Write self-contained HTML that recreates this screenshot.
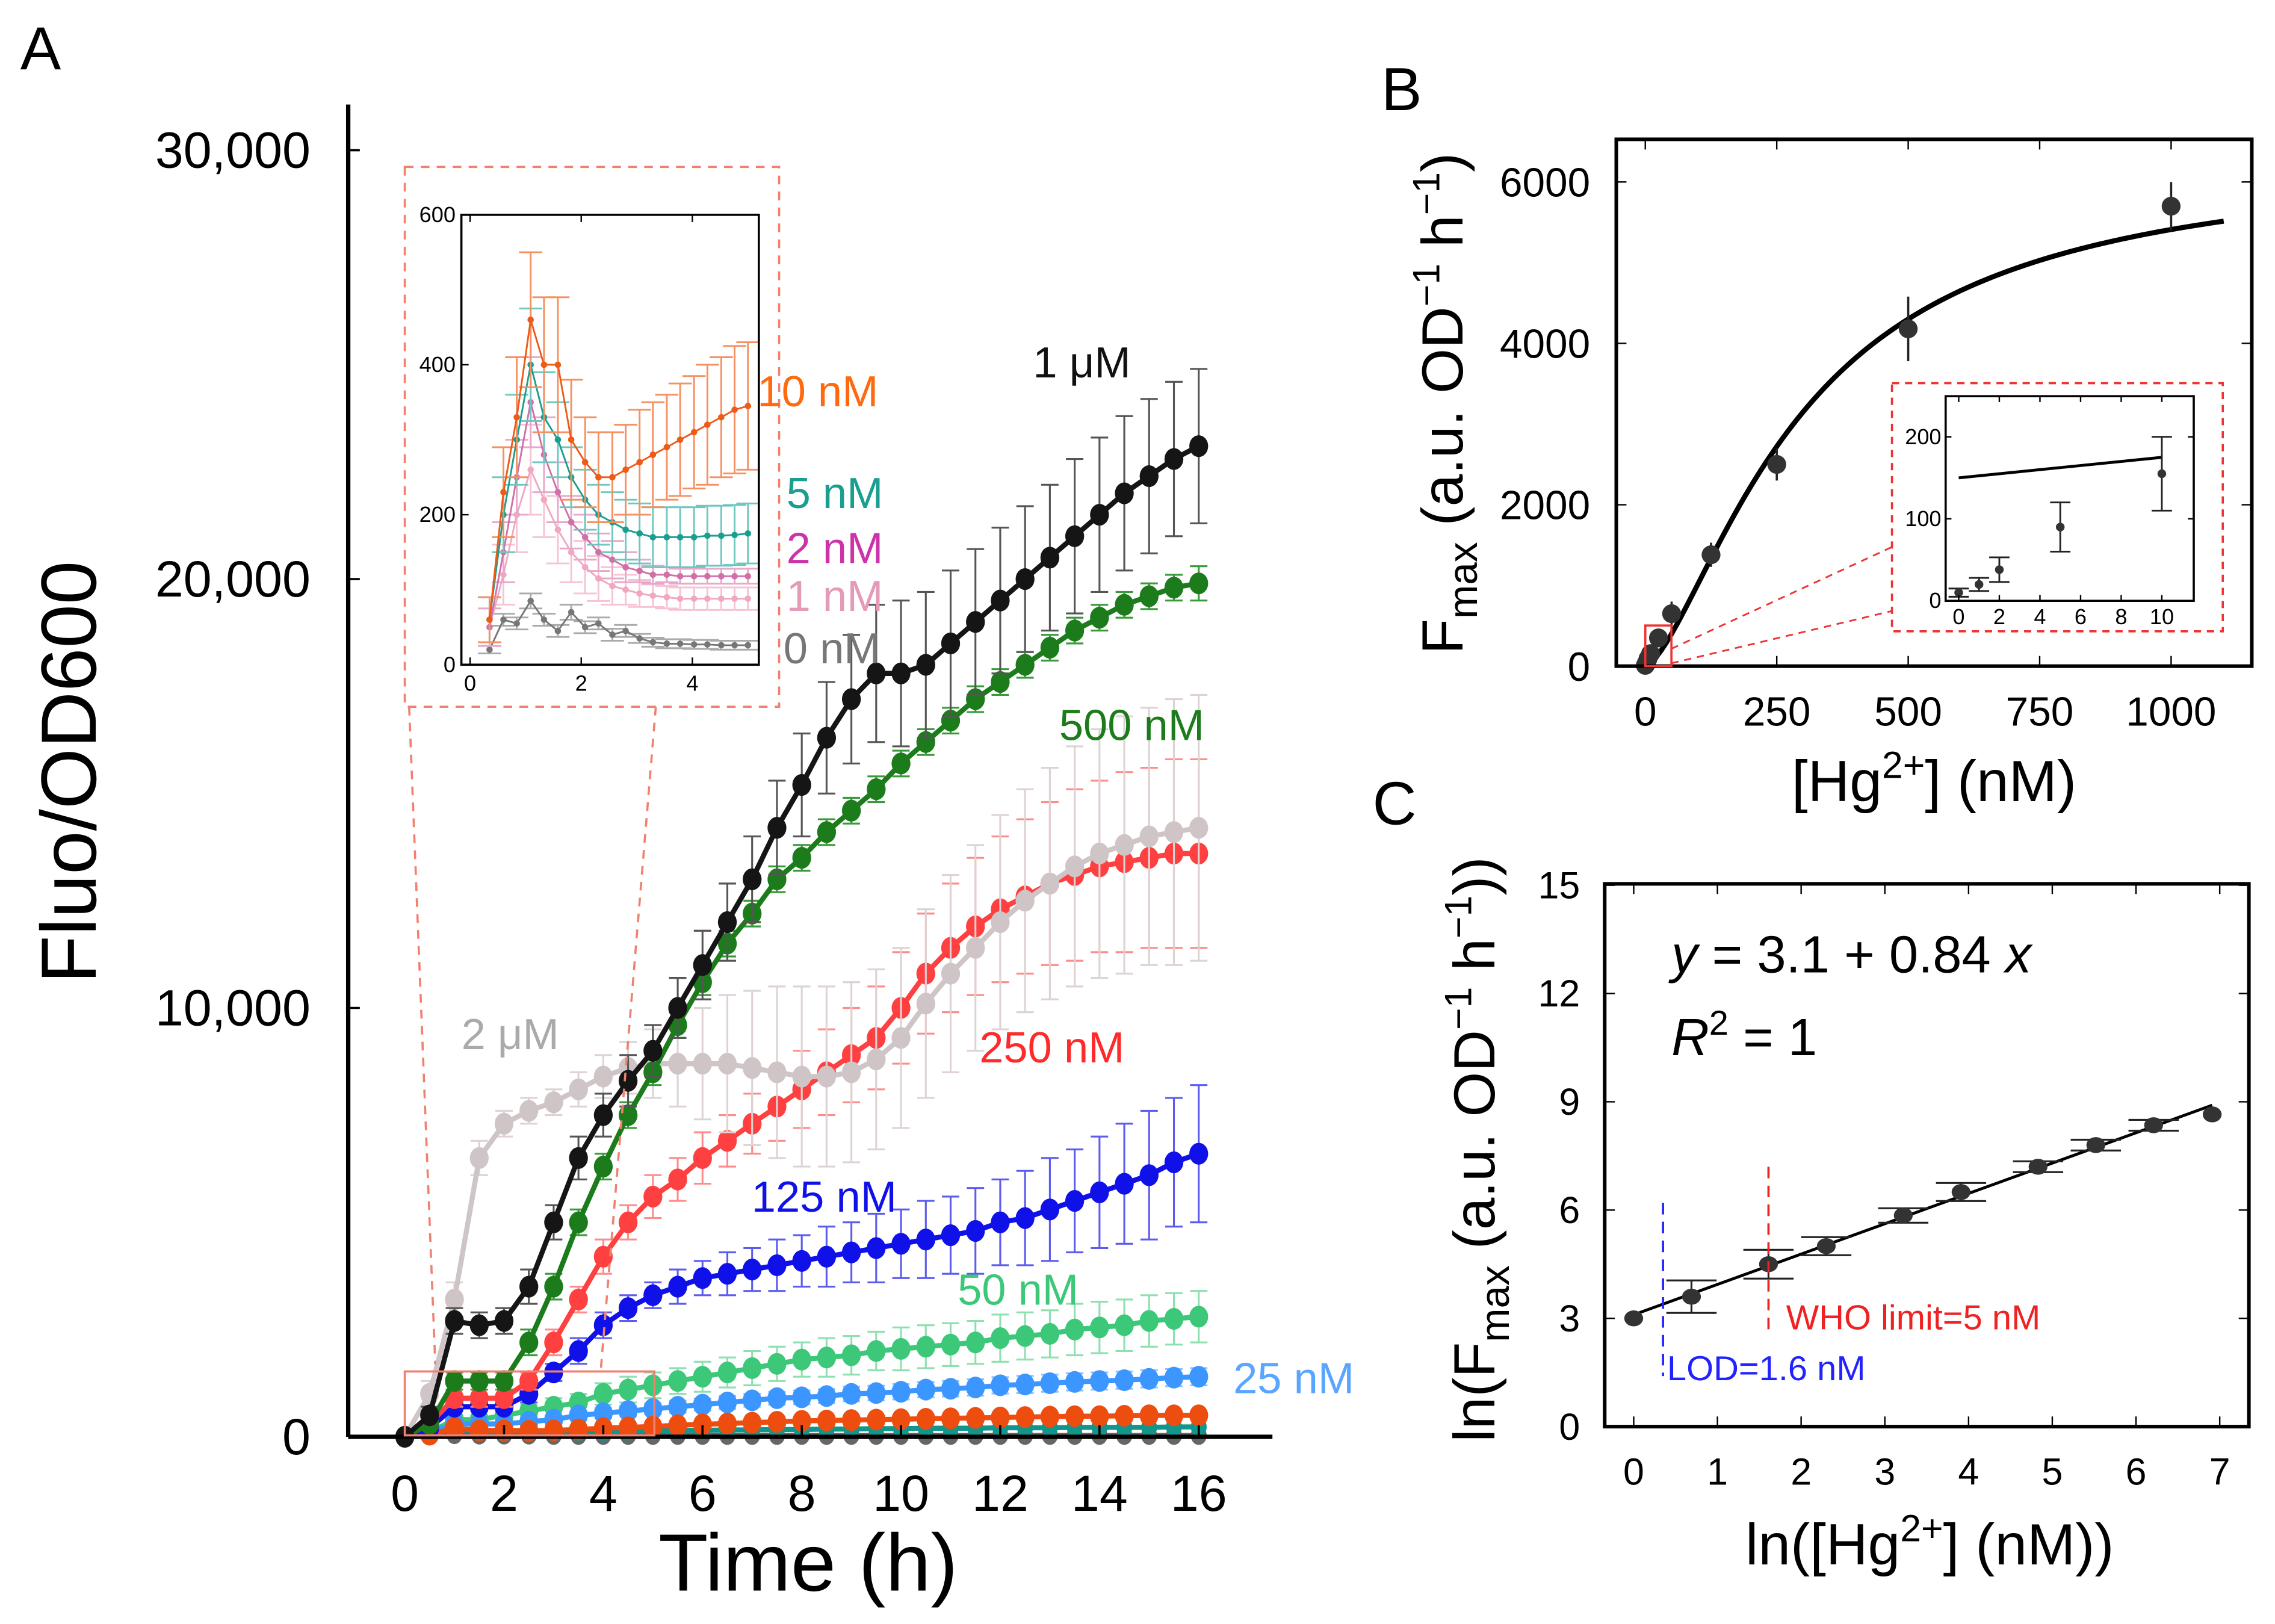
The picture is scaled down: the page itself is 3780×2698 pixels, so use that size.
<!DOCTYPE html>
<html><head><meta charset="utf-8">
<style>
html,body{margin:0;padding:0;background:#fff;}
svg{display:block;}
text{font-family:"Liberation Sans","DejaVu Sans",sans-serif;}
</style></head>
<body>
<svg id="fig" xmlns="http://www.w3.org/2000/svg" width="3780" height="2698" viewBox="0 0 1568 1119" preserveAspectRatio="none"></svg>
<script>
// ---------- Panel A data (thousands, t = 0..16 step 0.5 h) ----------
const aTimes = [0,0.5,1,1.5,2,2.5,3,3.5,4,4.5,5,5.5,6,6.5,7,7.5,8,8.5,9,9.5,10,10.5,11,11.5,12,12.5,13,13.5,14,14.5,15,15.5,16];
const a1uM   = [0,0.5,2.7,2.6,2.7,3.5,5.0,6.5,7.5,8.3,9.0,10.0,11.0,12.0,13.0,14.2,15.2,16.3,17.2,17.8,17.8,18.0,18.5,19.0,19.5,20.0,20.5,21.0,21.5,22.0,22.4,22.8,23.1];
const a1uMErr= [0,0.2,0.3,0.3,0.3,0.4,0.4,0.5,0.5,0.6,0.6,0.7,0.8,0.9,1.0,1.1,1.2,1.3,1.5,1.6,1.7,1.7,1.7,1.7,1.7,1.7,1.7,1.8,1.8,1.8,1.8,1.8,1.8];
const a500   = [0,0.3,1.3,1.3,1.3,2.2,3.5,5.0,6.3,7.5,8.5,9.6,10.6,11.5,12.2,13.0,13.5,14.1,14.6,15.1,15.7,16.2,16.7,17.2,17.6,18.0,18.4,18.8,19.1,19.4,19.6,19.8,19.9];
const a500Err= [0,0.1,0.2,0.2,0.2,0.3,0.3,0.3,0.3,0.3,0.3,0.3,0.3,0.3,0.3,0.3,0.3,0.3,0.3,0.3,0.3,0.3,0.3,0.3,0.3,0.3,0.3,0.3,0.3,0.3,0.3,0.3,0.4];
const a2uM   = [0,1.0,3.2,6.5,7.3,7.6,7.8,8.1,8.4,8.6,8.7,8.7,8.7,8.7,8.6,8.5,8.4,8.4,8.5,8.8,9.3,10.1,10.8,11.4,12.0,12.5,12.9,13.3,13.6,13.8,14.0,14.1,14.2];
const a2uMErr= [0,0.3,0.4,0.4,0.3,0.3,0.3,0.4,0.5,0.6,0.8,1.0,1.3,1.6,1.8,2.0,2.1,2.1,2.1,2.1,2.1,2.2,2.3,2.4,2.5,2.6,2.7,2.8,2.9,3.0,3.0,3.1,3.1];
const a250   = [0,0.3,0.9,0.9,0.9,1.3,2.2,3.2,4.2,5.0,5.6,6.0,6.5,6.9,7.3,7.7,8.1,8.5,8.9,9.3,10.0,10.8,11.4,11.9,12.3,12.6,12.9,13.1,13.3,13.4,13.5,13.6,13.6];
const a250Err= [0,0.1,0.2,0.2,0.2,0.2,0.3,0.3,0.4,0.4,0.5,0.5,0.6,0.6,0.7,0.8,0.9,1.0,1.1,1.2,1.3,1.4,1.5,1.6,1.7,1.8,1.9,2.0,2.0,2.1,2.1,2.2,2.2];
const a125   = [0,0.2,0.7,0.7,0.7,1.0,1.5,2.0,2.6,3.0,3.3,3.5,3.7,3.8,3.9,4.0,4.1,4.2,4.3,4.4,4.5,4.6,4.7,4.8,5.0,5.1,5.3,5.5,5.7,5.9,6.1,6.4,6.6];
const a125Err= [0,0.1,0.1,0.1,0.1,0.2,0.2,0.3,0.3,0.3,0.3,0.4,0.4,0.5,0.5,0.6,0.6,0.7,0.7,0.8,0.8,0.9,0.9,1.0,1.0,1.1,1.2,1.2,1.3,1.4,1.5,1.5,1.6];
const a50    = [0,0.1,0.4,0.4,0.5,0.6,0.7,0.8,1.0,1.1,1.2,1.3,1.4,1.5,1.6,1.7,1.8,1.85,1.9,2.0,2.05,2.1,2.15,2.2,2.3,2.35,2.4,2.5,2.55,2.6,2.7,2.75,2.8];
const a50Err = [0,0.05,0.1,0.1,0.1,0.15,0.2,0.2,0.25,0.3,0.3,0.3,0.35,0.35,0.4,0.4,0.4,0.45,0.45,0.45,0.5,0.5,0.5,0.5,0.55,0.55,0.55,0.6,0.6,0.6,0.6,0.6,0.6];
const a25    = [0,0.1,0.3,0.3,0.3,0.35,0.4,0.5,0.55,0.6,0.65,0.7,0.75,0.8,0.85,0.9,0.92,0.95,1.0,1.02,1.05,1.1,1.12,1.15,1.2,1.22,1.25,1.28,1.3,1.32,1.35,1.38,1.4];
const a25Err = [0,0.05,0.1,0.1,0.1,0.1,0.1,0.1,0.12,0.12,0.12,0.14,0.14,0.15,0.15,0.15,0.16,0.16,0.17,0.17,0.18,0.18,0.18,0.19,0.19,0.2,0.2,0.2,0.2,0.2,0.2,0.2,0.2];
const a10    = [0,0.05,0.2,0.15,0.15,0.14,0.15,0.17,0.2,0.22,0.24,0.27,0.29,0.31,0.33,0.35,0.37,0.38,0.39,0.4,0.41,0.42,0.43,0.44,0.45,0.46,0.47,0.48,0.48,0.49,0.5,0.5,0.5];
const a5     = [0,0.05,0.2,0.12,0.1,0.1,0.1,0.11,0.12,0.13,0.14,0.15,0.15,0.16,0.16,0.17,0.17,0.18,0.18,0.19,0.19,0.2,0.2,0.2,0.21,0.21,0.21,0.22,0.22,0.22,0.22,0.23,0.23];
const a0     = [0,0.02,0.05,0.04,0.04,0.04,0.03,0.03,0.03,0.03,0.03,0.03,0.03,0.03,0.03,0.03,0.03,0.03,0.03,0.03,0.03,0.03,0.03,0.03,0.03,0.03,0.03,0.03,0.03,0.03,0.03,0.03,0.03];
const aYTicks = [0,10,20,30];
const aYTickLabels = ["0","10,000","20,000","30,000"];
const aXTicks = [0,2,4,6,8,10,12,14,16];

// ---------- Panel A inset data ----------
const iTimes = [0.35,0.6,0.84,1.09,1.33,1.58,1.82,2.07,2.31,2.56,2.8,3.05,3.29,3.54,3.78,4.03,4.27,4.52,4.76,5.0];
const i10  = [60,230,330,460,400,400,300,270,250,250,260,270,280,290,300,310,320,330,340,345];
const i10E = [30,60,80,90,90,90,80,60,60,60,60,70,70,70,75,75,80,80,85,85];
const i5   = [60,200,300,400,330,300,250,220,200,190,180,175,170,170,170,170,172,172,173,175];
const i5E  = [30,50,60,75,60,50,40,40,40,40,40,40,40,40,40,40,40,40,40,40];
const i2   = [50,150,250,350,280,230,190,170,150,140,130,125,120,120,118,118,118,118,118,118];
const i2E  = [25,40,50,60,50,40,35,30,25,25,20,15,12,10,10,10,10,10,10,10];
const i1   = [50,120,200,260,220,180,150,130,115,105,100,95,92,90,88,88,88,88,88,88];
const i1E  = [25,40,50,60,50,45,40,35,30,25,20,18,15,15,15,15,15,15,15,15];
const i0   = [20,60,55,85,60,45,70,50,55,40,45,35,30,28,28,27,27,26,26,26];
const i0E  = [5,8,8,10,8,8,10,8,8,8,8,6,6,6,6,6,6,6,6,6];
const iYTicks = [0,200,400,600];
const iXTicks = [0,2,4];

// ---------- Panel B data ----------
const bConc = [0,1,2,5,10,25,50,125,250,500,1000];
const bFmax = [10,20,38,90,155,350,650,1380,2500,4180,5700];
const bErr  = [5,8,15,30,45,60,150,150,200,400,300];
const bFitVmax = 6300, bFitK = 300, bFitN = 1.5;
const bYTicks = [0,2000,4000,6000];
const bXTicks = [0,250,500,750,1000];
const bInsetYTicks = [0,100,200];
const bInsetXTicks = [0,2,4,6,8,10];
const bInsetFit = [[0,150],[10,175]];

// ---------- Panel C data ----------
const cX = [0,0.69,1.61,2.3,3.22,3.91,4.83,5.52,6.21,6.91];
const cY = [3.0,3.6,4.5,5.0,5.85,6.5,7.2,7.8,8.35,8.65];
const cYErr = [0.1,0.45,0.4,0.25,0.2,0.25,0.15,0.15,0.15,0.1];
const cXErr = [0.05,0.3,0.3,0.3,0.3,0.3,0.3,0.3,0.3,0.05];
const cIntercept = 3.1, cSlope = 0.84;
const cYTicks = [0,3,6,9,12,15];
const cXTicks = [0,1,2,3,4,5,6,7];
const cLOD = 0.35, cWHO = 1.61;

const NS = "http://www.w3.org/2000/svg";
const svg = document.getElementById('fig');
function mk(tag, attrs, parent) {
  const el = document.createElementNS(NS, tag);
  for (const k in attrs) el.setAttribute(k, attrs[k]);
  (parent || svg).appendChild(el);
  return el;
}
function grp(parent) { return mk('g', {}, parent); }

// ===== Panel A axes =====
const AX0 = 279, AXS = 34.2, AY0 = 990, AYS = 29.55;
const ax = t => AX0 + t * AXS;
const ay = v => AY0 - v * AYS;

let el;
el = mk('text', {x: 14, y: 48, 'font-size': 42}); el.textContent = 'A';



const gA = grp();



const aSeries = [
  {name:'series-50nM', v:a50, e:a50Err, c:'#3cc878', ec:'#8fe0b0', r:6},
  {name:'series-25nM', v:a25, e:a25Err, c:'#3b96ff', ec:'#8cc0ff', r:6},
  {name:'series-0nM', v:a0, e:null, c:'#666', ec:'#999', r:5},
  {name:'series-5nM', v:a5, e:null, c:'#12958a', ec:'#5cc', r:5},
  {name:'series-10nM', v:a10, e:null, c:'#ee4d10', ec:'#f9a', r:6},
  {name:'series-125nM', v:a125, e:a125Err, c:'#1010e8', ec:'#5c5cf0', r:6},
  {name:'series-250nM', v:a250, e:a250Err, c:'#ff4040', ec:'#ff8c8c', r:6},
  {name:'series-2uM', v:a2uM, e:a2uMErr, c:'#cfc5c7', ec:'#ddd3d5', r:6},
  {name:'series-500nM', v:a500, e:a500Err, c:'#1c7c1c', ec:'#3a9a3a', r:6},
  {name:'series-1uM', v:a1uM, e:a1uMErr, c:'#151515', ec:'#555', r:6},
];
aSeries.forEach(s => {
  const g = grp(gA);
  
  
  if (s.e) {
    s.v.forEach((v, i) => {
      const x = ax(aTimes[i]), y1 = ay(v + s.e[i]), y2 = ay(Math.max(0, v - s.e[i]));
      const eb = mk('path', {d:`M${x},${y1}V${y2}M${x-6},${y1}H${x+6}M${x-6},${y2}H${x+6}`, stroke:s.ec, 'stroke-width':1.3, fill:'none'}, g);
      
      
    });
  }
  const pts = s.v.map((v, i) => ax(aTimes[i]) + ',' + ay(v)).join(' ');
  const pl = mk('polyline', {points: pts, fill:'none', stroke:s.c, 'stroke-width':3.5, 'stroke-linejoin':'round'}, g);
  
  
  s.v.forEach((v, i) => {
    const m = mk('ellipse', {cx: ax(aTimes[i]), cy: ay(v), rx: s.r + 0.5, ry: s.r + 1.5, fill: s.c}, g);
    
    
  });
});

el = mk('line', {x1:240, y1:72, x2:240, y2:AY0, stroke:'#000', 'stroke-width':3});


el = mk('line', {x1:240, y1:AY0, x2:877, y2:AY0, stroke:'#000', 'stroke-width':3});


aYTicks.forEach((v, i) => {
  const t = mk('line', {x1:240, x2:248, y1:ay(v), y2:ay(v), stroke:'#000', 'stroke-width':1.5});
  
  
  const l = mk('text', {x:214, y:ay(v) + 12, 'font-size':35, 'text-anchor':'end'});
  l.textContent = aYTickLabels[i];
  
  
});
aXTicks.forEach(v => {
  const t = mk('line', {x1:ax(v), x2:ax(v), y1:AY0, y2:AY0 - 8, stroke:'#000', 'stroke-width':1.5});
  
  
  const l = mk('text', {x:ax(v), y:1041, 'font-size':35, 'text-anchor':'middle'});
  l.textContent = String(v);
  
  
});
el = mk('text', {x:557, y:1096, 'font-size':56, 'text-anchor':'middle'}); el.textContent = 'Time (h)';


el = mk('text', {x:0, y:0, 'font-size':54, 'text-anchor':'middle', transform:'translate(66,532) rotate(-90)'}); el.textContent = 'Fluo/OD600';



// zoom box & connectors
el = mk('rect', {x:279, y:945, width:172, height:44, fill:'none', stroke:'#f08070', 'stroke-width':1.5});


el = mk('path', {d:'M282,487L300,940M452,487L414,945', stroke:'#f08070', 'stroke-width':1.5, 'stroke-dasharray':'6,5', fill:'none'});



// ===== Panel A inset =====
const gI = grp();


el = mk('rect', {x:279, y:115, width:258, height:372, fill:'#fff', stroke:'#f08070', 'stroke-width':1.5, 'stroke-dasharray':'6,5'}, gI);


const IX0 = 324, IXS = 38.3, IY0 = 458, IYS = 0.5167;
const ix = t => IX0 + t * IXS;
const iy = v => IY0 - v * IYS;
const iSeries = [
  {name:'inset-0nM', v:i0, e:i0E, c:'#777', ec:'#aaa'},
  {name:'inset-1nM', v:i1, e:i1E, c:'#f0a8c0', ec:'#f5c3d3'},
  {name:'inset-2nM', v:i2, e:i2E, c:'#d070a8', ec:'#e6a8cc'},
  {name:'inset-5nM', v:i5, e:i5E, c:'#1a9e8f', ec:'#6cc8be'},
  {name:'inset-10nM', v:i10, e:i10E, c:'#ee5a18', ec:'#f59060'},
];
iSeries.forEach(s => {
  const g = grp(gI);
  
  
  s.v.forEach((v, i) => {
    const x = ix(iTimes[i]), y1 = iy(v + s.e[i]), y2 = iy(Math.max(0, v - s.e[i]));
    const eb = mk('path', {d:`M${x},${y1}V${y2}M${x-8},${y1}H${x+8}M${x-8},${y2}H${x+8}`, stroke:s.ec, 'stroke-width':1.2, fill:'none'}, g);
    
    
  });
  const pl = mk('polyline', {points: s.v.map((v, i) => ix(iTimes[i]) + ',' + iy(v)).join(' '), fill:'none', stroke:s.c, 'stroke-width':1.2}, g);
  
  
  s.v.forEach((v, i) => {
    const m = mk('circle', {cx: ix(iTimes[i]), cy: iy(v), r: 2.2, fill: s.c}, g);
    
    
  });
});
el = mk('rect', {x:318, y:148, width:205, height:310, fill:'none', stroke:'#000', 'stroke-width':1.5}, gI);


iYTicks.forEach(v => {
  const t = mk('line', {x1:318, x2:323, y1:iy(v), y2:iy(v), stroke:'#000'}, gI);
  
  
  const l = mk('text', {x:314, y:iy(v) + 5, 'font-size':15, 'text-anchor':'end'}, gI);
  l.textContent = String(v);
  
  
});
iXTicks.forEach(v => {
  const t = mk('line', {x1:ix(v), x2:ix(v), y1:458, y2:453, stroke:'#000'}, gI);
  
  
  const t2 = mk('line', {x1:ix(v), x2:ix(v), y1:148, y2:153, stroke:'#000'}, gI);
  
  
  const l = mk('text', {x:ix(v), y:476, 'font-size':15, 'text-anchor':'middle'}, gI);
  l.textContent = String(v);
  
  
});

// series labels (drawn after inset so they overlap its frame)
const aLabels = [
  ['1 μM', 712, 260, '#111'], ['500 nM', 730, 510, '#1c7c1c'], ['2 μM', 318, 723, '#aaa'],
  ['250 nM', 675, 732, '#ff2a2a'], ['125 nM', 518, 835, '#1010e8'], ['50 nM', 660, 899, '#3cc878'],
  ['25 nM', 850, 960, '#5aa5ff'], ['10 nM', 522, 280, '#ff6a10'], ['5 nM', 542, 350, '#1a9e8f'],
  ['2 nM', 542, 388, '#cc33aa'], ['1 nM', 542, 421, '#e49ab8'], ['0 nM', 540, 457, '#777']
];
aLabels.forEach(a => {
  const t = mk('text', {x:a[1], y:a[2], 'font-size':30, fill:a[3]});
  t.textContent = a[0];
  
  
});

// ===== Panel B =====
const BX0 = 1134, BXS = 0.3624, BY0 = 459, BYS = 0.0556;
const bx = c => BX0 + c * BXS;
const by = v => BY0 - v * BYS;
el = mk('text', {x:952, y:76, 'font-size':42}); el.textContent = 'B';


const gB = grp();


let fp = [];
for (let c = 0; c <= 1100; c += 10) {
  const f = bFitVmax * Math.pow(c, bFitN) / (Math.pow(bFitK, bFitN) + Math.pow(c, bFitN));
  fp.push(bx(c) + ',' + by(f));
}
el = mk('polyline', {points: fp.join(' '), fill:'none', stroke:'#000', 'stroke-width':3.5}, gB);


bConc.forEach((c, i) => {
  const x = bx(c);
  const eb = mk('line', {x1:x, x2:x, y1:by(bFmax[i] + bErr[i]), y2:by(Math.max(0, bFmax[i] - bErr[i])), stroke:'#222', 'stroke-width':1.5}, gB);
  
  
  const m = mk('circle', {cx:x, cy:by(bFmax[i]), r:6.5, fill:'#333'}, gB);
  
  
});
el = mk('rect', {x:1114, y:96, width:438, height:363, fill:'none', stroke:'#000', 'stroke-width':2.5}, gB);


bYTicks.forEach(v => {
  const t = mk('path', {d:`M1114,${by(v)}h7M1552,${by(v)}h-7`, stroke:'#000'}, gB);
  
  
  const l = mk('text', {x:1096, y:by(v) + 10, 'font-size':28, 'text-anchor':'end'}, gB);
  l.textContent = String(v);
  
  
});
bXTicks.forEach(v => {
  const t = mk('path', {d:`M${bx(v)},459v-7M${bx(v)},96v7`, stroke:'#000'}, gB);
  
  
  const l = mk('text', {x:bx(v), y:500, 'font-size':28, 'text-anchor':'middle'}, gB);
  l.textContent = String(v);
  
  
});
el = mk('text', {x:1333, y:552, 'font-size':40, 'text-anchor':'middle'}, gB);
el.innerHTML = '[Hg<tspan dy="-16" font-size="26">2+</tspan><tspan dy="16">] (nM)</tspan>';


el = mk('text', {x:0, y:0, 'font-size':40, 'text-anchor':'middle', transform:'translate(1008,278) rotate(-90)'}, gB);
el.innerHTML = 'F<tspan dy="10" font-size="28">max</tspan><tspan dy="-10"> (a.u. OD</tspan><tspan dy="-16" font-size="26">−1</tspan><tspan dy="16"> h</tspan><tspan dy="-16" font-size="26">−1</tspan><tspan dy="16">)</tspan>';


el = mk('rect', {x:1134, y:431, width:18, height:28, fill:'none', stroke:'#e33', 'stroke-width':1.5}, gB);


el = mk('path', {d:'M1152,447L1306,376M1152,457L1304,421', stroke:'#e33', 'stroke-width':1.2, 'stroke-dasharray':'5,4', fill:'none'}, gB);


const gBI = grp(gB);


el = mk('rect', {x:1304, y:264, width:228, height:171, fill:'#fff', stroke:'#e33', 'stroke-width':1.5, 'stroke-dasharray':'5,4'}, gBI);


const BIX0 = 1350, BIXS = 14, BIY0 = 414, BIYS = 0.565;
const bix = c => BIX0 + c * BIXS;
const biy = v => BIY0 - v * BIYS;
el = mk('line', {x1:bix(bInsetFit[0][0]), y1:biy(bInsetFit[0][1]), x2:bix(bInsetFit[1][0]), y2:biy(bInsetFit[1][1]), stroke:'#000', 'stroke-width':2}, gBI);


bConc.forEach((c, i) => {
  if (c > 10) return;
  const x = bix(c), y1 = biy(bFmax[i] + bErr[i]), y2 = biy(Math.max(0, bFmax[i] - bErr[i]));
  const eb = mk('path', {d:`M${x},${y1}V${y2}M${x-7},${y1}H${x+7}M${x-7},${y2}H${x+7}`, stroke:'#222', 'stroke-width':1.2, fill:'none'}, gBI);
  
  
  const m = mk('circle', {cx:x, cy:biy(bFmax[i]), r:3, fill:'#333'}, gBI);
  
  
});
el = mk('rect', {x:1341, y:273, width:171, height:141, fill:'none', stroke:'#000', 'stroke-width':1.5}, gBI);


bInsetYTicks.forEach(v => {
  const l = mk('text', {x:1338, y:biy(v) + 5, 'font-size':15, 'text-anchor':'end'}, gBI);
  l.textContent = String(v);
  
  
  const t = mk('path', {d:`M1341,${biy(v)}h4M1512,${biy(v)}h-4`, stroke:'#000'}, gBI);
  
  
});
bInsetXTicks.forEach(v => {
  const l = mk('text', {x:bix(v), y:430, 'font-size':15, 'text-anchor':'middle'}, gBI);
  l.textContent = String(v);
  
  
  const t = mk('path', {d:`M${bix(v)},414v-4M${bix(v)},273v4`, stroke:'#000'}, gBI);
  
  
});

// ===== Panel C =====
const CX0 = 1126, CXS = 57.7, CY0 = 983, CYS = 24.87;
const cx = v => CX0 + v * CXS;
const cy = v => CY0 - v * CYS;
el = mk('text', {x:946, y:568, 'font-size':42}); el.textContent = 'C';


const gC = grp();


el = mk('line', {x1:cx(0), y1:cy(cIntercept), x2:cx(6.91), y2:cy(cIntercept + cSlope * 6.91), stroke:'#000', 'stroke-width':2}, gC);


cX.forEach((v, i) => {
  const x = cx(v), y = cy(cY[i]);
  const eb = mk('path', {d:`M${x},${cy(cY[i]+cYErr[i])}V${cy(cY[i]-cYErr[i])}M${cx(v-cXErr[i])},${cy(cY[i]+cYErr[i])}H${cx(v+cXErr[i])}M${cx(v-cXErr[i])},${cy(cY[i]-cYErr[i])}H${cx(v+cXErr[i])}`, stroke:'#222', 'stroke-width':1.3, fill:'none'}, gC);
  
  
  const m = mk('ellipse', {cx:x, cy:y, rx:6.5, ry:5.5, fill:'#333'}, gC);
  
  
});
el = mk('line', {x1:cx(cLOD), x2:cx(cLOD), y1:cy(6.2), y2:cy(1.4), stroke:'#22f', 'stroke-width':1.5, 'stroke-dasharray':'8,5'}, gC);


el = mk('line', {x1:cx(cWHO), x2:cx(cWHO), y1:cy(7.2), y2:cy(2.6), stroke:'#e22', 'stroke-width':1.5, 'stroke-dasharray':'8,5'}, gC);


el = mk('text', {x:1231, y:916, 'font-size':24, fill:'#e22'}, gC); el.textContent = 'WHO limit=5 nM';


el = mk('text', {x:1149, y:951, 'font-size':24, fill:'#22f'}, gC); el.textContent = 'LOD=1.6 nM';


el = mk('rect', {x:1106, y:609, width:444, height:374, fill:'none', stroke:'#000', 'stroke-width':2.5}, gC);


cYTicks.forEach(v => {
  const t = mk('path', {d:`M1106,${cy(v)}h7M1550,${cy(v)}h-7`, stroke:'#000'}, gC);
  
  
  const l = mk('text', {x:1089, y:cy(v) + 9, 'font-size':26, 'text-anchor':'end'}, gC);
  l.textContent = String(v);
  
  
});
cXTicks.forEach(v => {
  const t = mk('path', {d:`M${cx(v)},983v-7M${cx(v)},609v7`, stroke:'#000'}, gC);
  
  
  const l = mk('text', {x:cx(v), y:1023, 'font-size':26, 'text-anchor':'middle'}, gC);
  l.textContent = String(v);
  
  
});
el = mk('text', {x:1152, y:670, 'font-size':36}, gC);
el.innerHTML = '<tspan font-style="italic">y</tspan> = 3.1 + 0.84 <tspan font-style="italic">x</tspan>';


el = mk('text', {x:1152, y:727, 'font-size':36}, gC);
el.innerHTML = '<tspan font-style="italic">R</tspan><tspan dy="-14" font-size="24">2</tspan><tspan dy="14"> = 1</tspan>';


el = mk('text', {x:1330, y:1078, 'font-size':40, 'text-anchor':'middle'}, gC);
el.innerHTML = 'ln([Hg<tspan dy="-16" font-size="26">2+</tspan><tspan dy="16">] (nM))</tspan>';


el = mk('text', {x:0, y:0, 'font-size':40, 'text-anchor':'middle', transform:'translate(1030,792) rotate(-90)'}, gC);
el.innerHTML = 'ln(F<tspan dy="10" font-size="28">max</tspan><tspan dy="-10"> (a.u. OD</tspan><tspan dy="-16" font-size="26">−1</tspan><tspan dy="16"> h</tspan><tspan dy="-16" font-size="26">−1</tspan><tspan dy="16">))</tspan>';


</script>
</body></html>
